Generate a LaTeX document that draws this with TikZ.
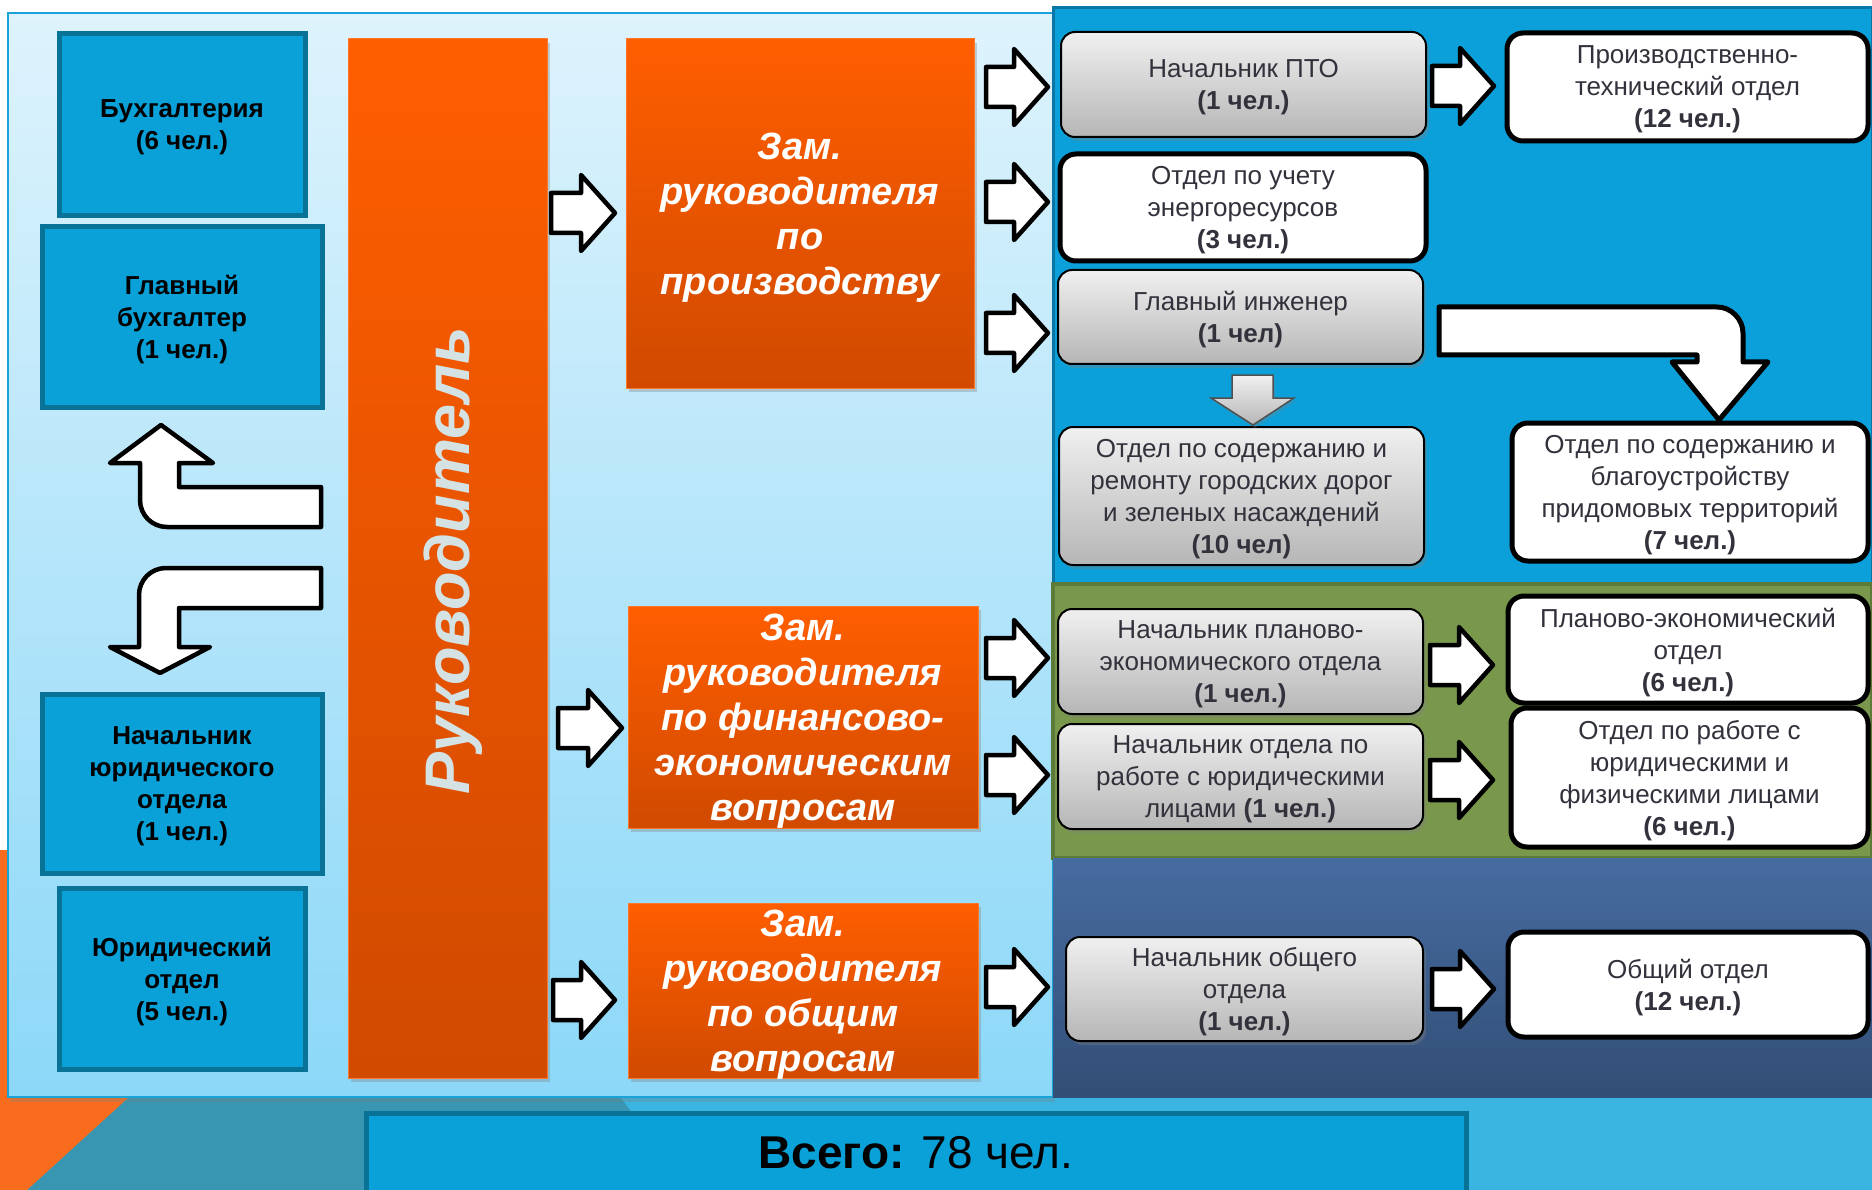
\documentclass[tikz,border=0pt]{standalone}
\usepackage{fontspec}
\setmainfont{Liberation Sans}
\usepackage{graphicx}
\usetikzlibrary{calc,shadows}
\definecolor{bgLB}{RGB}{58,180,224}
\definecolor{bgTeal}{RGB}{56,150,178}
\definecolor{bgOr}{RGB}{249,108,30}
\definecolor{panTop}{RGB}{222,243,252}
\definecolor{panBot}{RGB}{140,216,248}
\definecolor{panLine}{RGB}{25,163,216}
\definecolor{blueP}{RGB}{11,160,218}
\definecolor{bluePl}{RGB}{10,118,165}
\definecolor{greenP}{RGB}{122,152,76}
\definecolor{greenPl}{RGB}{92,122,56}
\definecolor{navyTop}{RGB}{70,108,160}
\definecolor{navyBot}{RGB}{50,78,118}
\definecolor{lbFill}{RGB}{10,160,216}
\definecolor{lbLine}{RGB}{8,115,150}
\definecolor{orTop}{RGB}{255,94,0}
\definecolor{orBot}{RGB}{208,74,0}
\definecolor{orLine}{RGB}{255,120,40}
\definecolor{gTop}{RGB}{240,240,240}
\definecolor{gBot}{RGB}{182,182,182}
\definecolor{txt}{RGB}{50,50,60}
\definecolor{rukTxt}{RGB}{212,226,228}
\newcommand\rarrowpath[2]{\draw[barrow] ($(#1)+(0,-20)$) -- ($(#2)+(-34,-20)$) -- ($(#2)+(-34,-38)$) -- (#2) -- ($(#2)+(-34,38)$) -- ($(#2)+(-34,20)$) -- ($(#1)+(0,20)$) -- cycle;}
\begin{document}
\begin{tikzpicture}[x=1pt,y=-1pt,
  lbox/.style={draw=lbLine, fill=lbFill, line width=5pt, inner sep=0pt, align=center, text=black, text depth=-6pt, font=\bfseries\fontsize{26}{32}\selectfont},
  rukbox/.style={top color=orTop, bottom color=orBot, draw=orLine, line width=1pt, inner sep=0pt, drop shadow={shadow xshift=3pt, shadow yshift=-4pt, opacity=0.35}},
  zambox/.style={rukbox, text=white, align=center, text depth=-7pt, font=\bfseries\itshape\fontsize{38}{45}\selectfont},
  gbox/.style={rounded corners=14pt, draw=black, line width=2pt, top color=gTop, bottom color=gBot, inner sep=0pt, align=center, text=txt, text depth=-5pt, font=\fontsize{26}{32}\selectfont, drop shadow={shadow xshift=3pt, shadow yshift=-4pt, opacity=0.35}},
  wbox/.style={rounded corners=16pt, draw=black, line width=5pt, fill=white, inner sep=0pt, align=center, text=txt, text depth=-5pt, font=\fontsize{26}{32}\selectfont},
  barrow/.style={draw=black, fill=white, line width=4.5pt, line join=round},
  panel/.style={inner sep=0pt}
]
\useasboundingbox (0,0) rectangle (1872,1190);
% background
\fill[white] (0,0) rectangle (1872,1190);
\fill[bgLB] (0,1090) rectangle (1872,1190);
\fill[bgTeal] (129,1090) -- (615,1090) -- (690,1190) -- (27,1190) -- cycle;
\fill[bgOr] (0,850) -- (8,850) -- (8,1097) -- (129,1097) -- (27,1190) -- (0,1190) -- cycle;
% main light panel
\node[panel, top color=panTop, bottom color=panBot, draw=panLine, line width=2pt, minimum width=1045pt, minimum height=1084pt, drop shadow={shadow xshift=2pt, shadow yshift=-5pt, opacity=0.3}] (lpan) at (530.5,555) {};
% right panels
\node[panel, fill=blueP, draw=bluePl, line width=3pt, minimum width=819pt, minimum height=576pt] (bpan) at (1462.5,296) {};
\node[panel, fill=greenP, draw=greenPl, line width=4pt, minimum width=819pt, minimum height=274pt] (gpan) at (1462.5,721) {};
\node[panel, top color=navyTop, bottom color=navyBot, minimum width=819pt, minimum height=239pt] (npan) at (1462.5,977.5) {};
% left column
\node[lbox, minimum width=246pt, minimum height=182pt] (buh) at (182,125) {Бухгалтерия\\(6 чел.)};
\node[lbox, minimum width=280pt, minimum height=180pt] (glbuh) at (182,317) {Главный\\бухгалтер\\(1 чел.)};
\node[lbox, minimum width=280pt, minimum height=179pt] (nachjur) at (182,783.5) {Начальник\\юридического\\отдела\\(1 чел.)};
\node[lbox, minimum width=246pt, minimum height=181pt] (jur) at (182,978.5) {Юридический\\отдел\\(5 чел.)};
% bent arrows left
\draw[barrow] (321,487) -- (179,487) -- (179,463) -- (213,463) -- (161,425) -- (110,463) -- (140,463) -- (140,500) .. controls (140,515) and (152,527) .. (167,527) -- (321,527) -- cycle;
\draw[barrow] (321,568) -- (166,568) .. controls (151,568) and (139,580) .. (139,595) -- (139,647) -- (110,647) -- (160,673) -- (210,647) -- (179,647) -- (179,608) -- (321,608) -- cycle;
% head
\node[rukbox, minimum width=199pt, minimum height=1039pt] (ruk) at (447.5,558.5) {};
\node[text=rukTxt, inner sep=0pt, font=\bfseries\itshape\fontsize{63}{68}\selectfont] (rukt) at (453,561) {\rotatebox{90}{Руководитель}};
% deputies
\node[zambox, minimum width=348pt, minimum height=349pt] (zam1) at (800,213.5) {Зам.\\руководителя\\по\\производству};
\node[zambox, minimum width=350pt, minimum height=222pt] (zam2) at (803,717) {Зам.\\руководителя\\по финансово-\\экономическим\\вопросам};
\node[zambox, minimum width=350pt, minimum height=175pt] (zam3) at (803,990.5) {Зам.\\руководителя\\по общим\\вопросам};
% right boxes
\node[gbox, minimum width=365pt, minimum height=105pt] (pto) at (1243.5,84.5) {Начальник ПТО\\\textbf{(1 чел.)}};
\node[wbox, minimum width=366pt, minimum height=107pt] (energo) at (1243,207.5) {Отдел по учету\\энергоресурсов\\\textbf{(3 чел.)}};
\node[gbox, minimum width=365pt, minimum height=94pt] (glinzh) at (1240.5,317) {Главный инженер\\\textbf{(1 чел)}};
\node[gbox, minimum width=365pt, minimum height=138pt] (dorog) at (1241.5,496) {Отдел по содержанию и\\ремонту городских дорог\\и зеленых насаждений\\\textbf{(10 чел)}};
\node[wbox, minimum width=361pt, minimum height=108pt] (proizv) at (1687.5,87) {Производственно-\\технический отдел\\\textbf{(12 чел.)}};
\node[wbox, minimum width=356pt, minimum height=138pt] (blag) at (1690,492) {Отдел по содержанию и\\благоустройству\\придомовых территорий\\\textbf{(7 чел.)}};
\node[gbox, minimum width=365pt, minimum height=105pt] (nachplan) at (1240.5,661.5) {Начальник планово-\\экономического отдела\\\textbf{(1 чел.)}};
\node[gbox, minimum width=365pt, minimum height=105pt] (nachjurl) at (1240.5,776.5) {Начальник отдела по\\работе с юридическими\\лицами \textbf{(1 чел.)}};
\node[wbox, minimum width=360pt, minimum height=107pt] (plan) at (1688,649.5) {Планово-экономический\\отдел\\\textbf{(6 чел.)}};
\node[wbox, minimum width=357pt, minimum height=139pt] (jurfiz) at (1689.5,777.5) {Отдел по работе с\\юридическими и\\физическими лицами\\\textbf{(6 чел.)}};
\node[gbox, minimum width=357pt, minimum height=104pt] (nachobsh) at (1244.5,989) {Начальник общего\\отдела\\\textbf{(1 чел.)}};
\node[wbox, minimum width=360pt, minimum height=105pt] (obsh) at (1688,984.5) {Общий отдел\\\textbf{(12 чел.)}};
% block arrows
\coordinate (a1t) at (551,213); \coordinate (a1h) at (615,213);
\coordinate (a2t) at (558,728); \coordinate (a2h) at (622,728);
\coordinate (a3t) at (553,1000); \coordinate (a3h) at (615,1000);
\coordinate (b1t) at (986,87); \coordinate (b1h) at (1048,87);
\coordinate (b2t) at (986,202); \coordinate (b2h) at (1048,202);
\coordinate (b3t) at (986,333); \coordinate (b3h) at (1048,333);
\coordinate (b4t) at (986,658); \coordinate (b4h) at (1048,658);
\coordinate (b5t) at (986,775); \coordinate (b5h) at (1048,775);
\coordinate (b6t) at (986,987); \coordinate (b6h) at (1048,987);
\coordinate (c1t) at (1432,86); \coordinate (c1h) at (1494,86);
\coordinate (c2t) at (1430,665); \coordinate (c2h) at (1493,665);
\coordinate (c3t) at (1430,780); \coordinate (c3h) at (1493,780);
\coordinate (c4t) at (1432,989); \coordinate (c4h) at (1494,989);
\rarrowpath{a1t}{a1h}
\rarrowpath{a2t}{a2h}
\rarrowpath{a3t}{a3h}
\rarrowpath{b1t}{b1h}
\rarrowpath{b2t}{b2h}
\rarrowpath{b3t}{b3h}
\rarrowpath{b4t}{b4h}
\rarrowpath{b5t}{b5h}
\rarrowpath{b6t}{b6h}
\rarrowpath{c1t}{c1h}
\rarrowpath{c2t}{c2h}
\rarrowpath{c3t}{c3h}
\rarrowpath{c4t}{c4h}
% big bent arrow
\draw[barrow, line width=5pt] (1439,307) -- (1717,307) .. controls (1731,307) and (1743,319) .. (1743,333) -- (1743,362) -- (1768,362) -- (1719,420) -- (1672,362) -- (1697,362) -- (1697,355) -- (1439,355) -- cycle;
% gray down arrow
\draw[top color=gTop, bottom color=gBot, draw={rgb,255:red,80;green,80;blue,80}, line width=1.5pt, drop shadow={shadow xshift=2pt, shadow yshift=-3pt, opacity=0.3}] (1232,375) -- (1273,375) -- (1273,398) -- (1294,398) -- (1253,425) -- (1211,398) -- (1232,398) -- cycle;
% total
\node[panel, fill=lbFill, draw=lbLine, line width=5pt, minimum width=1100pt, minimum height=90pt] (tot) at (916,1158) {};
\node[inner sep=0pt, text=black, font=\fontsize{46}{50}\selectfont] (totl) at (916,1153) {\textbf{Всего:} 78 чел.};
\end{tikzpicture}
\end{document}
